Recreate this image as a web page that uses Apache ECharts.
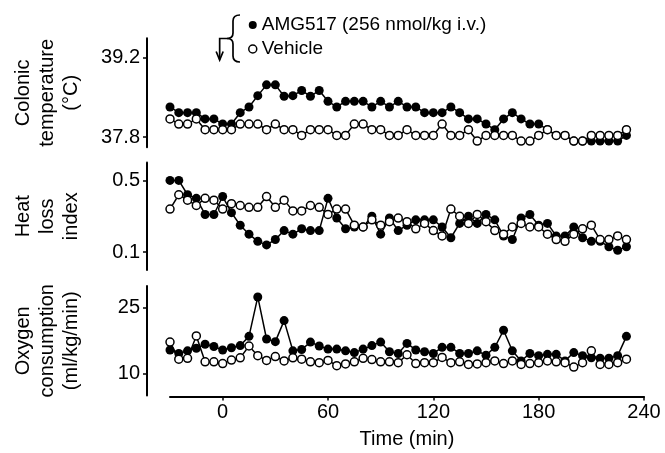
<!DOCTYPE html>
<html><head><meta charset="utf-8">
<script src="https://cdn.jsdelivr.net/npm/echarts@6/dist/echarts.min.js"></script>
<style>html,body{margin:0;padding:0;background:#fff}#c{width:665px;height:453px}</style>
</head><body><div id="c"></div>
<script>
// Time points (min)
const times = [-30,-25,-20,-15,-10,-5,0,5,10,15,
  20,25,30,35,40,45,50,55,60,65,
  70,75,80,85,90,95,100,105,110,115,
  120,125,130,135,140,145,150,155,160,165,
  170,175,180,185,190,195,200,205,210,215,
  220,225,230];

// Colonic temperature (°C)
const tempAMG = [38.33,38.23,38.23,38.23,38.12,38.12,38.03,38.03,38.23,38.33,
  38.53,38.72,38.72,38.52,38.53,38.62,38.52,38.62,38.43,38.33,
  38.43,38.43,38.43,38.33,38.43,38.33,38.43,38.33,38.33,38.23,
  38.23,38.23,38.33,38.23,38.12,38.12,38.03,37.93,38.12,38.23,
  38.12,38.03,38.03,37.93,37.83,37.83,37.73,37.73,37.73,37.73,
  37.73,37.73,37.83];
const tempVeh = [38.12,38.03,38.03,38.12,37.93,37.93,37.93,37.93,38.03,38.03,
  38.03,37.93,38.03,37.93,37.93,37.83,37.93,37.93,37.93,37.83,
  37.83,38.03,38.03,37.93,37.93,37.83,37.83,37.93,37.83,37.83,
  37.83,38.03,37.83,37.83,37.93,37.73,37.83,37.83,37.83,37.83,
  37.73,37.73,37.83,37.93,37.83,37.83,37.73,37.73,37.83,37.83,
  37.83,37.83,37.93];

// Heat loss index
const hliAMG = [0.50,0.50,0.42,0.40,0.31,0.31,0.41,0.32,0.25,0.20,
  0.16,0.14,0.17,0.22,0.20,0.23,0.22,0.22,0.40,0.29,
  0.23,0.24,0.24,0.30,0.20,0.29,0.22,0.25,0.28,0.28,
  0.28,0.24,0.18,0.26,0.30,0.26,0.31,0.28,0.19,0.17,
  0.29,0.31,0.25,0.26,0.19,0.19,0.24,0.18,0.16,0.16,
  0.13,0.11,0.13];
const hliVeh = [0.34,0.42,0.39,0.36,0.40,0.39,0.34,0.37,0.36,0.35,
  0.35,0.41,0.35,0.39,0.33,0.33,0.36,0.35,0.31,0.34,
  0.34,0.25,0.24,0.28,0.25,0.27,0.29,0.27,0.23,0.26,
  0.22,0.19,0.34,0.30,0.26,0.31,0.27,0.22,0.20,0.24,
  0.26,0.24,0.24,0.20,0.17,0.16,0.20,0.23,0.25,0.17,
  0.17,0.19,0.17];

// Oxygen consumption (ml/kg/min)
const vo2AMG = [15.4,14.6,15.2,15.8,16.7,16.2,15.4,15.9,16.4,18.5,
  27.5,17.9,17.3,22.1,15.2,15.5,17.2,16.3,15.6,15.6,
  15.2,14.8,15.6,16.4,17.2,15.0,14.6,16.9,15.4,15.0,
  14.6,16.0,16.0,14.6,14.6,15.2,14.2,16.0,19.9,15.2,
  12.9,14.6,14.1,14.4,14.4,12.9,14.8,14.1,13.6,13.5,
  13.5,14.1,18.5];
const vo2Veh = [17.2,13.3,13.5,18.6,12.7,12.7,12.3,13.1,13.6,16.3,
  14.1,13.0,13.9,12.9,13.6,13.3,12.7,12.5,13.0,11.8,
  12.2,12.7,13.5,13.2,12.7,12.7,12.5,14.3,12.3,12.5,
  12.5,13.7,12.5,12.7,12.1,12.2,12.5,12.9,12.3,12.9,
  12.1,12.3,12.5,12.9,12.7,12.5,11.5,12.5,15.2,12.1,
  12.1,12.5,13.3];

// Tick labels
const timeTicks = [0,60,120,180,240];
const tempTicks = [37.8,39.2];
const hliTicks = [0.1,0.5];
const vo2Ticks = [10,25];

const nameAMG = 'AMG517 (256 nmol/kg i.v.)';
const nameVeh = 'Vehicle';
const FONT = '"Liberation Sans", Arial, sans-serif';

const chart = echarts.init(document.getElementById('c'), null, {renderer:'canvas'});

const grids = [
  {left:170, right:21, top:38.3, height:109},
  {left:170, right:21, top:162.5, height:107.5},
  {left:170, right:21, top:286, height:109.5}
];

function xAxis(i, show){
  return {
    gridIndex:i, type:'value', min:-30, max:240, show:show, offset:1,
    axisLine:{show:true, onZero:false, lineStyle:{color:'#000', width:2}},
    axisTick:{show:true, length:4, lineStyle:{color:'#000', width:1.5}, customValues:timeTicks},
    axisLabel:{customValues:timeTicks, margin:6, fontSize:20, color:'#000', fontFamily:FONT},
    splitLine:{show:false},
    name: show ? 'Time (min)' : '', nameLocation:'middle', nameGap:33,
    nameTextStyle:{fontSize:20, color:'#000', fontFamily:FONT}
  };
}
function yAxis(i, min, max, ticks, name, fmt){
  return {
    gridIndex:i, type:'value', min:min, max:max, offset:23,
    axisLine:{show:true, onZero:false, lineStyle:{color:'#000', width:2}},
    axisTick:{show:true, length:4, lineStyle:{color:'#000', width:1.5}, customValues:ticks},
    axisLabel:{customValues:ticks, margin:7, fontSize:20, color:'#000', fontFamily:FONT, formatter:fmt},
    splitLine:{show:false},
    name:name, nameLocation:'middle', nameRotate:90, nameGap:64,
    nameTextStyle:{fontSize:20, lineHeight:24, color:'#000', fontFamily:FONT, align:'center'}
  };
}
function pairs(arr){ return times.map((t,i)=>[t, arr[i]]); }
function amg(i, arr){
  return {name:nameAMG, type:'line', xAxisIndex:i, yAxisIndex:i, data:pairs(arr),
    symbol:'circle', symbolSize:9, showAllSymbol:true,
    itemStyle:{color:'#000'}, lineStyle:{color:'#000', width:1.5}};
}
function veh(i, arr){
  return {name:nameVeh, type:'line', xAxisIndex:i, yAxisIndex:i, data:pairs(arr),
    symbol:'circle', symbolSize:8, showAllSymbol:true,
    itemStyle:{color:'#fff', borderColor:'#000', borderWidth:1.5}, lineStyle:{color:'#000', width:1.5}};
}

chart.setOption({
  animation:false,
  backgroundColor:'#fff',
  textStyle:{fontFamily:FONT},
  grid:grids,
  xAxis:[xAxis(0,false), xAxis(1,false), xAxis(2,true)],
  yAxis:[
    yAxis(0, 37.62, 39.54, tempTicks, 'Colonic\ntemperature\n(°C)', v=>v.toFixed(1)),
    yAxis(1, 0, 0.6, hliTicks, 'Heat\nloss\nindex', v=>v.toFixed(1)),
    yAxis(2, 5, 30, vo2Ticks, 'Oxygen\nconsumption\n(ml/kg/min)', v=>String(v))
  ],
  legend:{
    orient:'vertical', left:248, top:15, padding:0, itemGap:4,
    itemWidth:8, itemHeight:8, selectedMode:false,
    textStyle:{fontSize:19, lineHeight:20, color:'#000', fontFamily:FONT},
    data:[
      {name:nameAMG, icon:'circle', itemStyle:{color:'#000', borderWidth:0}},
      {name:nameVeh, icon:'circle', itemStyle:{color:'#fff', borderColor:'#000', borderWidth:1.5}}
    ]
  },
  series:[
    amg(0,tempAMG), veh(0,tempVeh),
    amg(1,hliAMG), veh(1,hliVeh),
    amg(2,vo2AMG), veh(2,vo2Veh)
  ]
});

// Injection arrow at time 0 and brace grouping the legend
const ax = chart.convertToPixel({xAxisIndex:2}, 0) - 3;
const S = {fill:null, stroke:'#000', lineWidth:1.7};
chart.setOption({
  graphic:[
    {type:'bezierCurve', shape:{x1:240,y1:15,cpx1:233,cpy1:15,x2:233,y2:21}, style:S},
    {type:'line', shape:{x1:233,y1:21,x2:233,y2:33}, style:S},
    {type:'bezierCurve', shape:{x1:233,y1:33,cpx1:233,cpy1:38.5,x2:227,y2:38.5}, style:S},
    {type:'bezierCurve', shape:{x1:227,y1:38.5,cpx1:233,cpy1:38.5,x2:233,y2:44}, style:S},
    {type:'line', shape:{x1:233,y1:44,x2:233,y2:56}, style:S},
    {type:'bezierCurve', shape:{x1:233,y1:56,cpx1:233,cpy1:62,x2:240,y2:62}, style:S},
    {type:'polyline', shape:{points:[[227,38.5],[ax,38.5],[ax,59.5]]}, style:S},
    {type:'polyline', shape:{points:[[ax-3.5,51.5],[ax,60],[ax+3.5,51.5]]}, style:S}
  ]
});
</script>
</body></html>
